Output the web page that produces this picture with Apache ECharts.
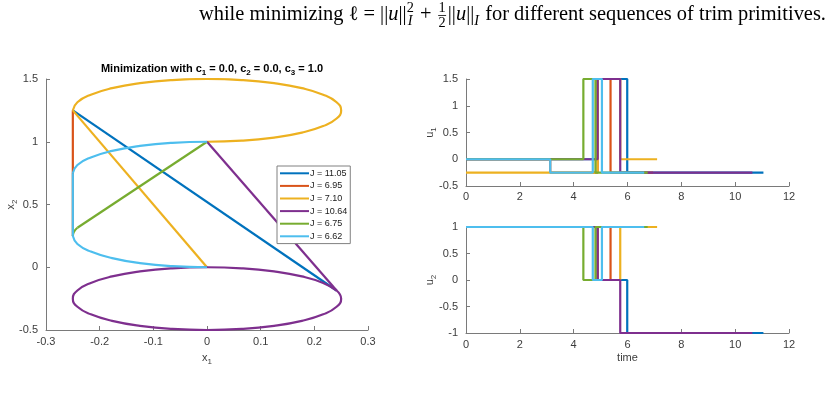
<!DOCTYPE html>
<html><head><meta charset="utf-8">
<script src="https://cdn.jsdelivr.net/npm/echarts@6/dist/echarts.min.js"></script>
<style>html,body{margin:0;padding:0;background:#fff}#c{width:829px;height:393px}</style>
</head><body><div id="c"></div>
<script>
// ---------- data ----------
const seriesNames = ['J = 11.05','J = 6.95','J = 7.10','J = 10.64','J = 6.75','J = 6.62'];
const seriesColors = ['#0072BD','#D95319','#EDB120','#7E2F8E','#77AC30','#4DBEEE'];

// left panel: (x1, x2) path pieces
const blueLine   = [[-0.25,1.25],[0.2415,-0.1853]];
const redLine    = [[-0.25,0.25],[-0.25,1.25]];
const yellowLine = [[0,0],[-0.25,1.25]];
const yellowArc  = [[-0.25,1.25],[-0.2415,1.3147],[-0.2165,1.375],[-0.1768,1.4268],[-0.125,1.4665],[-0.0647,1.4915],[0,1.5],[0.0647,1.4915],[0.125,1.4665],[0.1768,1.4268],[0.2165,1.375],[0.2415,1.3147],[0.25,1.25],[0.2415,1.1853],[0.2165,1.125],[0.1768,1.0732],[0.125,1.0335],[0.0647,1.0085],[0,1.0]];
const purpleLoop = [[0.2415,-0.1853],[0.2165,-0.125],[0.1768,-0.0732],[0.125,-0.0335],[0.0647,-0.0085],[0,0],[-0.0647,-0.0085],[-0.125,-0.0335],[-0.1768,-0.0732],[-0.2165,-0.125],[-0.2415,-0.1853],[-0.25,-0.25],[-0.2415,-0.3147],[-0.2165,-0.375],[-0.1768,-0.4268],[-0.125,-0.4665],[-0.0647,-0.4915],[0,-0.5],[0.0647,-0.4915],[0.125,-0.4665],[0.1768,-0.4268],[0.2165,-0.375],[0.2415,-0.3147],[0.25,-0.25],[0.2415,-0.1853]];
const purpleLine = [[0,1],[0.2415,-0.1853]];
const greenArc   = [[-0.25,0.25],[-0.2479,0.2826],[-0.2415,0.3147]];
const greenLine  = [[-0.2415,0.3147],[0,1]];
const cyanArcLow = [[0,0],[-0.0647,0.0085],[-0.125,0.0335],[-0.1768,0.0732],[-0.2165,0.125],[-0.2415,0.1853],[-0.25,0.25]];
const cyanLine   = [[-0.25,0.25],[-0.25,0.75]];
const cyanArcMid = [[-0.25,0.75],[-0.2415,0.8147],[-0.2165,0.875],[-0.1768,0.9268],[-0.125,0.9665],[-0.0647,0.9915],[0,1]];

// right panels: switching times and piecewise-constant values
const blueU1T = [0,4.89,5.99,11.05],        blueU1V = [0,1.5,-0.25,-0.25];
const blueU2T = [0,4.89,5.99,11.05],        blueU2V = [1,0,-1,-1];
const redU1T  = [0,3.13,4.89,5.37,6.95],    redU1V  = [0,-0.25,1.5,-0.25,-0.25];
const redU2T  = [0,4.89,5.37,6.95],         redU2V  = [1,0,1,1];
const yelU1T  = [0,4.89,5.73,7.10],         yelU1V  = [-0.25,1.5,0,0];
const yelU2T  = [0,5.73,5.73,7.10],         yelU2V  = [1,0,1,1];
const purU1T  = [0,4.89,5.73,10.64],        purU1V  = [0,1.5,-0.25,-0.25];
const purU2T  = [0,4.89,5.73,10.64],        purU2V  = [1,0,-1,-1];
const grnU1T  = [0,4.36,4.81,6.75],         grnU1V  = [0,1.5,-0.25,-0.25];
const grnU2T  = [0,4.36,4.81,6.75],         grnU2V  = [1,0,1,1];
const cyaU1T  = [0,3.13,4.71,5.05,6.62],    cyaU1V  = [0,-0.25,1.5,-0.25,-0.25];
const cyaU2T  = [0,4.71,5.05,6.62],         cyaU2V  = [1,0,1,1];

const leftXTicks = {min:-0.3, max:0.3, step:0.1};
const leftYTicks = {min:-0.5, max:1.5, step:0.5};
const u1Ticks = {min:-0.5, max:1.5, step:0.5};
const u2Ticks = {min:-1, max:1, step:0.5};
const timeTicks = {min:0, max:12, step:2};

const titleText = 'Minimization with c{s|1} = 0.0, c{s|2} = 0.0, c{s|3} = 1.0';
const headerPre = 'while minimizing ';
const headerPost = ' for different sequences of trim primitives.';

// ---------- chart ----------
const chart = echarts.init(document.getElementById('c'), null, {renderer:'canvas'});
const AX = '#7a7a7a', TX = '#3c3c3c', SANS = '"Liberation Sans", Arial, Helvetica, sans-serif';
const LW = 2.2;
const zip = (T,V) => T.map((t,i)=>[t,V[i]]);
const fmt = v => String(parseFloat(Number(v).toFixed(2)));

function axis(o, extra){
  return Object.assign({
    type:'value', min:o.min, max:o.max, interval:o.step,
    nameMoveOverlap:false,
    axisLine:{show:true, onZero:false, lineStyle:{color:AX, width:1}},
    axisTick:{show:true, inside:true, length:4, lineStyle:{color:AX}},
    axisLabel:{color:TX, fontSize:11, fontFamily:SANS, formatter:fmt},
    splitLine:{show:false},
    nameTextStyle:{color:TX, fontSize:11, fontFamily:SANS,
      rich:{s:{fontSize:8, fontFamily:SANS, color:TX, padding:[9,0,0,0]}}}
  }, extra);
}
function line(i, data, xi, yi, extra){
  return Object.assign({
    type:'line', name:seriesNames[i], data:data, xAxisIndex:xi, yAxisIndex:yi,
    showSymbol:false, symbol:'none', color:seriesColors[i],
    lineStyle:{color:seriesColors[i], width:LW}, animation:false, silent:true
  }, extra||{});
}

const series = [
  line(0, blueLine, 0,0),
  line(1, redLine, 0,0),
  line(2, yellowLine, 0,0), line(2, yellowArc, 0,0, {smooth:true}),
  line(3, purpleLoop, 0,0, {smooth:true}), line(3, purpleLine, 0,0),
  line(4, greenArc, 0,0, {smooth:true}), line(4, greenLine, 0,0),
  line(5, cyanArcLow, 0,0, {smooth:true}), line(5, cyanLine, 0,0), line(5, cyanArcMid, 0,0, {smooth:true}),
  line(0, zip(blueU1T,blueU1V), 1,1, {step:'end'}),
  line(1, zip(redU1T,redU1V), 1,1, {step:'end'}),
  line(2, zip(yelU1T,yelU1V), 1,1, {step:'end'}),
  line(3, zip(purU1T,purU1V), 1,1, {step:'end'}),
  line(4, zip(grnU1T,grnU1V), 1,1, {step:'end'}),
  line(5, zip(cyaU1T,cyaU1V), 1,1, {step:'end'}),
  line(0, zip(blueU2T,blueU2V), 2,2, {step:'end'}),
  line(1, zip(redU2T,redU2V), 2,2, {step:'end'}),
  line(2, zip(yelU2T,yelU2V), 2,2, {step:'end'}),
  line(3, zip(purU2T,purU2V), 2,2, {step:'end'}),
  line(4, zip(grnU2T,grnU2V), 2,2, {step:'end'}),
  line(5, zip(cyaU2T,cyaU2V), 2,2, {step:'end'})
];

// header with math (layout measured with canvas)
function header(){
  const ctx = document.createElement('canvas').getContext('2d');
  const fam = '"Liberation Serif","DejaVu Serif",serif';
  const f = (sz,it)=> (it?'italic ':'')+sz.toFixed(2)+'px '+fam;
  const pieces = [
    {t:headerPre},{t:'\u2113'},{t:' = ||'},{t:'u',it:1},{t:'||'},
    {stack:[{t:'2',dy:-0.42},{t:'I',it:1,dy:0.22}]},
    {t:' + '},{frac:['1','2']},{t:'||'},{t:'u',it:1},{t:'||'},
    {t:'I',it:1,small:1,dy:0.22},{t:headerPost}
  ];
  const measure = (base)=>{
    let w=0;
    pieces.forEach(p=>{
      let pw;
      if(p.stack){ pw=Math.max(...p.stack.map(q=>{ctx.font=f(base*0.7,q.it);return ctx.measureText(q.t).width;}))+base*0.05; }
      else if(p.frac){ ctx.font=f(base*0.7,0); pw=Math.max(ctx.measureText(p.frac[0]).width,ctx.measureText(p.frac[1]).width)+base*0.2; }
      else { ctx.font=f(p.small?base*0.7:base,p.it); pw=ctx.measureText(p.t).width + (p.small?base*0.05:0); }
      p.w=pw; w+=pw;
    });
    return w;
  };
  let base=20; const W=measure(base); base=base*627/W; measure(base);
  const els=[]; let x=199; const bl=21;
  const txt=(s,xx,yy,sz,it,al)=>({type:'text',silent:true,x:xx,y:yy,style:{text:s,font:f(sz,it),fill:'#000',textAlign:al||'left',textVerticalAlign:'middle'}});
  pieces.forEach(p=>{
    if(p.stack){ p.stack.forEach(q=>els.push(txt(q.t,x+(q.it?base*0.05:0),bl+q.dy*base-0.32*base*0.7,base*0.7,q.it))); }
    else if(p.frac){
      const cx=x+p.w/2, axisY=bl-0.27*base;
      els.push(txt(p.frac[0],cx,axisY-0.36*base,base*0.7,0,'center'));
      els.push(txt(p.frac[1],cx,axisY+0.38*base,base*0.7,0,'center'));
      els.push({type:'line',silent:true,shape:{x1:x+base*0.08,y1:axisY,x2:x+p.w-base*0.08,y2:axisY},style:{stroke:'#000',lineWidth:0.8}});
    } else if(p.small){ els.push(txt(p.t,x,bl+p.dy*base-0.32*base*0.7,base*0.7,p.it)); }
    else els.push(txt(p.t,x,bl-0.32*base,base,p.it));
    x+=p.w;
  });
  return els;
}

const option = {
  animation:false,
  backgroundColor:'#fff',
  title:{text:titleText, left:207, top:56, textAlign:'center',
    textStyle:{fontSize:11, fontWeight:'bold', color:'#000', fontFamily:SANS,
      rich:{s:{fontSize:8, fontWeight:'bold', color:'#000', fontFamily:SANS, padding:[8,0,0,0]}}}},
  legend:{data:seriesNames, orient:'vertical', left:277, top:166, icon:'rect', itemWidth:29, itemHeight:2,
    itemGap:0, padding:[1,3,1,3], borderColor:'#808080', borderWidth:1, backgroundColor:'#fff',
    textStyle:{fontSize:9, color:'#1a1a1a', fontFamily:SANS, lineHeight:12.6, padding:[0,0,0,-4]}, selectedMode:false},
  grid:[
    {left:46, top:79, width:322, height:251},
    {left:466, top:79, width:323, height:107},
    {left:466, top:227, width:323, height:106}
  ],
  xAxis:[
    axis(leftXTicks,{gridIndex:0, name:'x{s|1}', nameLocation:'middle', nameGap:19, axisLabel:{color:TX,fontSize:11,fontFamily:SANS,formatter:fmt,margin:6}}),
    axis(timeTicks,{gridIndex:1, axisLabel:{color:TX,fontSize:11,fontFamily:SANS,formatter:fmt,margin:5}}),
    axis(timeTicks,{gridIndex:2, name:'time', nameLocation:'middle', nameGap:19, axisLabel:{color:TX,fontSize:11,fontFamily:SANS,formatter:fmt,margin:6}})
  ],
  yAxis:[
    axis(leftYTicks,{gridIndex:0, name:'x{s|2}', nameLocation:'middle', nameGap:27, nameRotate:90}),
    axis(u1Ticks,{gridIndex:1, name:'u{s|1}', nameLocation:'middle', nameGap:28, nameRotate:90}),
    axis(u2Ticks,{gridIndex:2, name:'u{s|2}', nameLocation:'middle', nameGap:28, nameRotate:90})
  ],
  series:series,
  graphic:header()
};
chart.setOption(option);
</script></body></html>
